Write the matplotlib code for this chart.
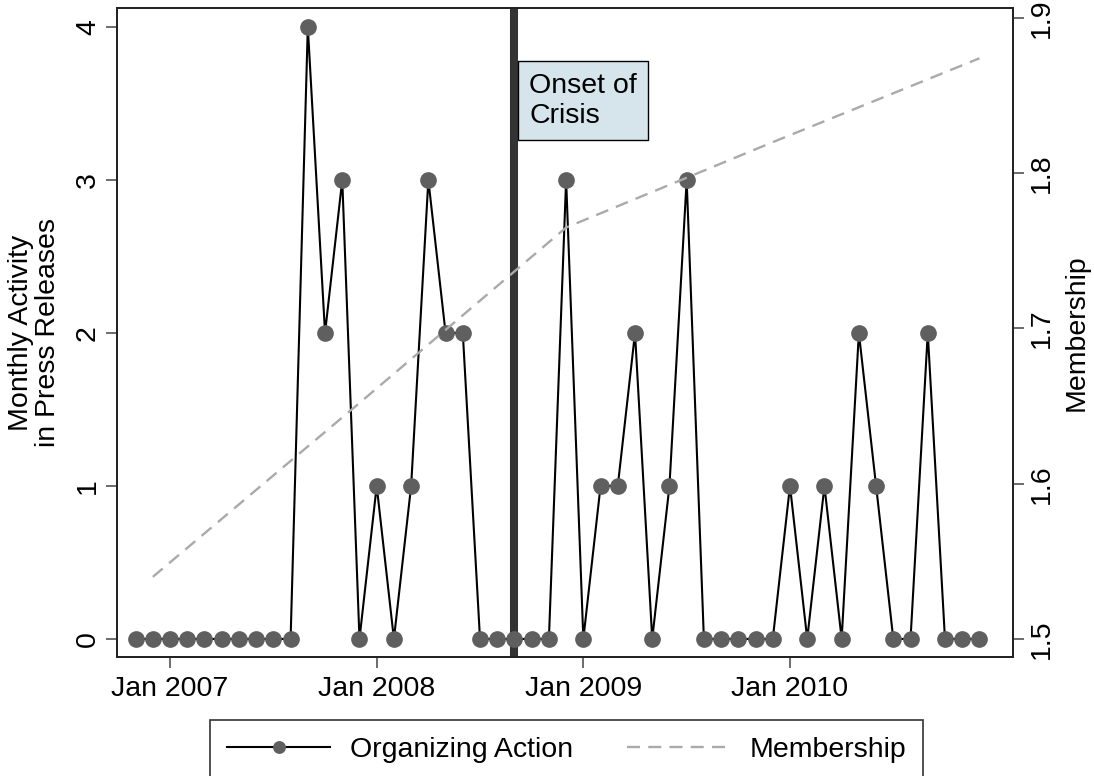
import pandas as pd
import numpy as np
import matplotlib
matplotlib.use('Agg')
import matplotlib.pyplot as plt

plt.rcParams['font.family'] = ['Liberation Sans', 'DejaVu Sans']

# monthly press release counts, Nov 2006 - Dec 2010
months = pd.date_range('2006-11-01', '2010-12-01', freq='MS')
activity = [0, 0, 0, 0, 0, 0, 0, 0, 0, 0,
            4, 2, 3, 0, 1, 0, 1, 3, 2, 2,
            0, 0, 0, 0, 0, 3, 0, 1, 1, 2,
            0, 1, 3, 0, 0, 0, 0, 0, 1, 0,
            1, 0, 2, 1, 0, 0, 2, 0, 0, 0]

# membership (yearly, December values)
member_dates = pd.to_datetime(['2006-12-01', '2007-12-01', '2008-12-01', '2009-12-01', '2010-12-01'])
membership = [1.54, 1.652, 1.765, 1.820, 1.874]

crisis = pd.Timestamp('2008-09-01')
tick_dates = pd.to_datetime(['2007-01-01', '2008-01-01', '2009-01-01', '2010-01-01'])
tick_labels = ['Jan 2007', 'Jan 2008', 'Jan 2009', 'Jan 2010']


def month_num(d):
    # months since Jan 2007, equal spacing like Stata's monthly axis
    d = pd.DatetimeIndex(d)
    return (d.year - 2007) * 12 + (d.month - 1)


x = month_num(months)
xm = month_num(member_dates)
xc = month_num([crisis])[0]

fs = 20.5
fig = plt.figure(figsize=(10.94, 7.76), dpi=100)
ax = fig.add_axes([117 / 1094, 1 - 657 / 776, (1013 - 117) / 1094, (657 - 8) / 776])

ax.axvline(xc, color='#333333', lw=5.8, zorder=1)
ax.plot(x, activity, color='black', lw=1.5, marker='o', markersize=11,
        markerfacecolor='#5f5f5f', markeredgecolor='#5f5f5f', zorder=2,
        label='Organizing Action')

ax.text(xc + 0.85, 3.70, 'Onset of\nCrisis', fontsize=fs, va='top', ha='left',
        linespacing=1.2, zorder=5,
        bbox=dict(boxstyle='square,pad=0.4', facecolor='#d6e5ec', edgecolor='black', lw=1.0))

ax.set_xlim(-3.08, 48.95)
ax.set_ylim(-0.118, 4.124)
ax.set_xticks(month_num(tick_dates))
ax.set_xticklabels(tick_labels)
ax.set_yticks([0, 1, 2, 3, 4])
ax.tick_params(axis='both', labelsize=fs, length=8, width=1.1, direction='out', color='#444444')
ax.tick_params(axis='x', pad=6)
for lab in ax.get_yticklabels():
    lab.set_rotation(90)
    lab.set_va('center')
ax.set_ylabel('Monthly Activity\nin Press Releases', fontsize=fs, linespacing=1.05, labelpad=10)

ax2 = ax.twinx()
ax2.plot(xm, membership, color='#aaaaaa', lw=1.7, dashes=(5.5, 3.5), label='Membership')
ax2.set_ylim(1.4884, 1.9064)
ax2.set_yticks([1.5, 1.6, 1.7, 1.8, 1.9])
ax2.set_yticklabels(['1.5', '1.6', '1.7', '1.8', '1.9'])
ax2.tick_params(axis='y', labelsize=fs, length=8, width=1.1, direction='out', color='#444444')
for lab in ax2.get_yticklabels():
    lab.set_rotation(90)
    lab.set_va('center')
ax2.set_ylabel('Membership', fontsize=fs, labelpad=6)

for a in (ax, ax2):
    for s in a.spines.values():
        s.set_linewidth(1.3)
        s.set_color('#222222')

h1, l1 = ax.get_legend_handles_labels()
h2, l2 = ax2.get_legend_handles_labels()
leg = fig.legend(h1 + h2, l1 + l2, loc='upper center', bbox_to_anchor=(0.518, 1 - 720 / 776),
                 ncol=2, fontsize=fs, frameon=True, fancybox=False, handlelength=3.6,
                 handletextpad=0.7, columnspacing=1.9, markerscale=0.75, borderpad=0.6,
                 borderaxespad=0)
leg.get_frame().set_edgecolor('black')
leg.get_frame().set_linewidth(1.2)

fig.savefig('out.png', dpi=100)
